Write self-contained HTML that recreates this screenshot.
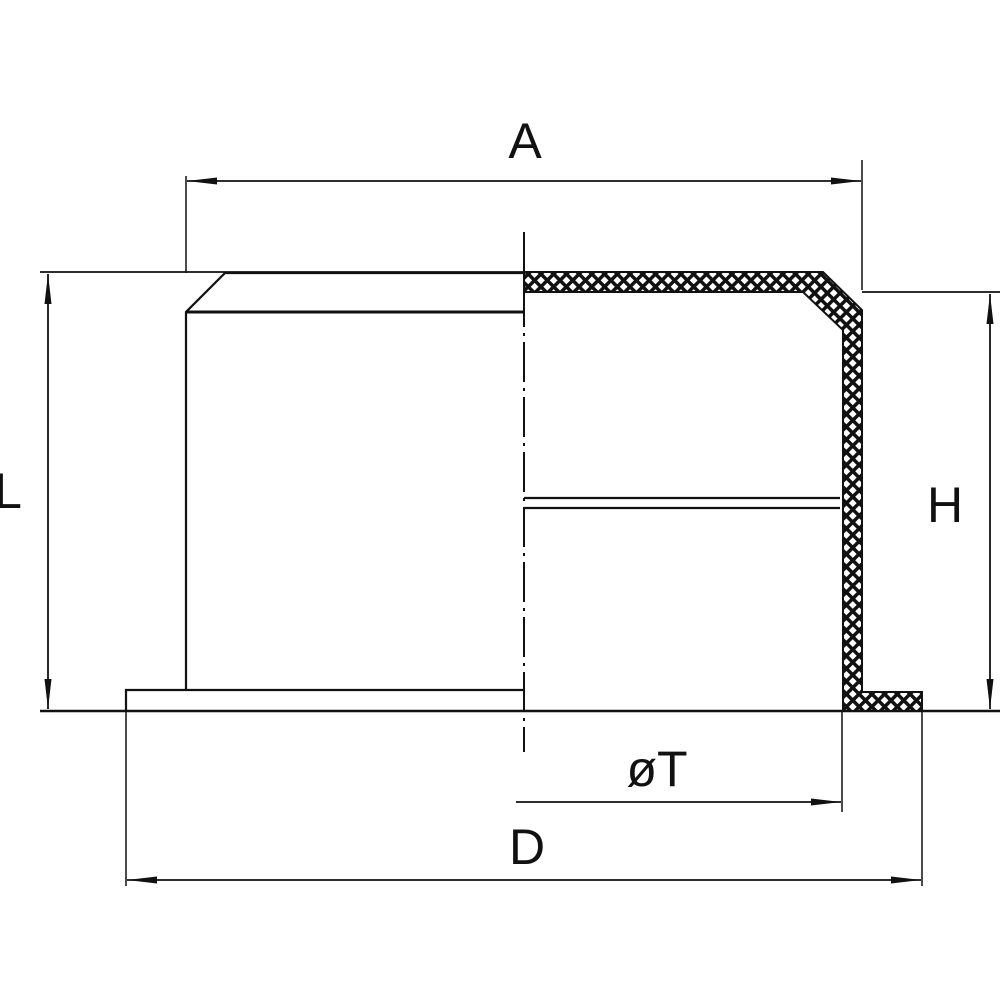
<!DOCTYPE html>
<html><head><style>html,body{margin:0;background:#fff}svg{display:block}</style></head><body>
<svg width="1000" height="1000" viewBox="0 0 1000 1000" xmlns="http://www.w3.org/2000/svg">
<defs>
<pattern id="h" width="9" height="9" patternUnits="userSpaceOnUse" patternTransform="rotate(45)">
<rect width="9" height="9" fill="#111"/><rect x="2" y="2" width="5.5" height="5.5" fill="#fff"/>
</pattern>
<marker id="a" viewBox="0 0 30 8" refX="30" refY="4" markerWidth="30" markerHeight="8" markerUnits="userSpaceOnUse" orient="auto-start-reverse"><path d="M0,0.5 L30,4 L0,7.5 Z" fill="#111"/></marker>
</defs>
<g stroke="#111" fill="none" stroke-width="2.2">
<path d="M186,690 V312 L225,273 H524"/>
<line x1="186" y1="312" x2="524" y2="312" stroke-width="3"/>
<path d="M126,711 V690 H524"/>
<line x1="40" y1="711" x2="1000" y2="711" stroke-width="2.5"/>
<line x1="524" y1="232" x2="524" y2="752" stroke-dasharray="40,6,3,6" stroke-width="2"/>
<path d="M524,272 H823 L862,310 V692 H922 V711 H843 V330 L803,292 H524 Z" fill="url(#h)" stroke-width="2"/>
<path d="M524,498 H840 M524,508 H840" stroke-width="2.2"/>
<line x1="186" y1="176" x2="186" y2="273" stroke-width="1.5"/>
<line x1="862" y1="160" x2="862" y2="290" stroke-width="1.5"/>
<line x1="187" y1="181" x2="861" y2="181" stroke-width="1.8" marker-start="url(#a)" marker-end="url(#a)"/>
<line x1="40" y1="272" x2="524" y2="272" stroke-width="1.8"/>
<line x1="48" y1="274" x2="48" y2="709" stroke-width="1.8" marker-start="url(#a)" marker-end="url(#a)"/>
<line x1="862" y1="292" x2="1000" y2="292" stroke-width="1.8"/>
<line x1="990" y1="294" x2="990" y2="709" stroke-width="1.8" marker-start="url(#a)" marker-end="url(#a)"/>
<line x1="126" y1="711" x2="126" y2="886" stroke-width="1.5"/>
<line x1="922" y1="711" x2="922" y2="886" stroke-width="1.5"/>
<line x1="127" y1="880" x2="921" y2="880" stroke-width="1.8" marker-start="url(#a)" marker-end="url(#a)"/>
<line x1="842" y1="711" x2="842" y2="812" stroke-width="1.5"/>
<line x1="516" y1="802" x2="841" y2="802" stroke-width="1.8" marker-end="url(#a)"/>
</g>
<g font-family="Liberation Sans, sans-serif" font-size="50" fill="#111" text-anchor="middle">
<text x="525" y="158">A</text>
<text x="8" y="508">L</text>
<text x="945" y="522">H</text>
<text x="657" y="786">øT</text>
<text x="527" y="864">D</text>
</g>
</svg>
</body></html>
